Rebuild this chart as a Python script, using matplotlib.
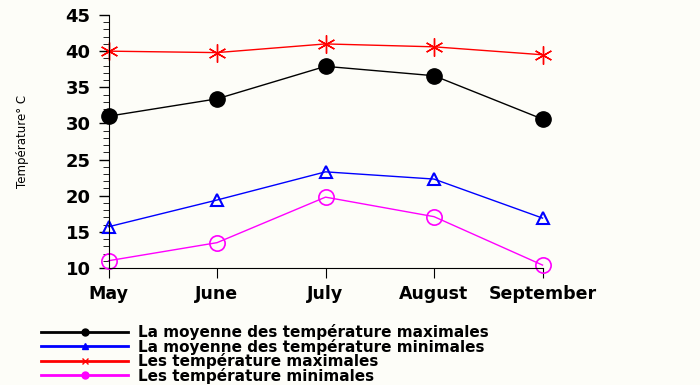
import numpy as np
import matplotlib.pyplot as plt
from matplotlib.lines import Line2D

months = ["May", "June", "July", "August", "September"]
moy_max = [31.0, 33.4, 37.9, 36.6, 30.6]
moy_min = [15.7, 19.4, 23.3, 22.3, 16.9]
t_max = [40.0, 39.8, 41.0, 40.6, 39.5]
t_min = [11.0, 13.5, 19.8, 17.1, 10.4]

bg = "#fdfdf8"
fig = plt.figure(figsize=(7, 3.85), dpi=100, facecolor=bg)
ax = fig.add_axes([0.155, 0.304, 0.62, 0.657], facecolor=bg)
x = np.arange(len(months))

ax.plot(x, t_max, color="red", lw=1, marker=(6, 2, 0), ms=13, mew=1)
ax.plot(x, moy_max, color="black", lw=1, marker="o", ms=11)
ax.plot(x, moy_min, color="blue", lw=1, marker="^", ms=9, mfc="none", mew=1.5)
ax.plot(x, t_min, color="magenta", lw=1, marker="o", ms=11, mfc="none", mew=1.2)

ax.set_xlim(0, 4)
ax.set_ylim(10, 45)
ax.set_xticks(x)
ax.set_xticklabels(months, fontsize=12.5, fontweight="bold")
ax.set_yticks(np.arange(10, 46, 5))
ax.set_yticks(np.arange(10, 46, 1), minor=True)
ax.tick_params(axis="y", labelsize=13, length=7, width=1, pad=6)
ax.tick_params(axis="y", which="minor", length=4)
for t in ax.get_yticklabels():
    t.set_fontweight("bold")
ax.tick_params(axis="x", length=7, pad=5)
ax.spines["top"].set_visible(False)
ax.spines["right"].set_visible(False)
for s in ax.spines.values():
    s.set_clip_on(False)
for ln in ax.lines:
    ln.set_clip_on(False)
ax.set_ylabel("Température° C", fontsize=8.5, labelpad=26)

labels = ["La moyenne des température maximales",
          "La moyenne des température minimales",
          "Les température maximales",
          "Les température minimales"]
handles = [Line2D([], [], color="black", lw=2, marker="o", ms=5),
           Line2D([], [], color="blue", lw=2, marker="^", ms=5),
           Line2D([], [], color="red", lw=2, marker="x", ms=5),
           Line2D([], [], color="magenta", lw=2, marker="o", ms=5)]
fig.legend(handles, labels, loc="upper left", bbox_to_anchor=(0.048, 0.178),
           frameon=False, handlelength=5.7, handletextpad=0.65,
           labelspacing=-0.1, borderpad=0,
           prop={"size": 11, "weight": "bold"})

fig.savefig("out.png", dpi=100, facecolor=bg)
